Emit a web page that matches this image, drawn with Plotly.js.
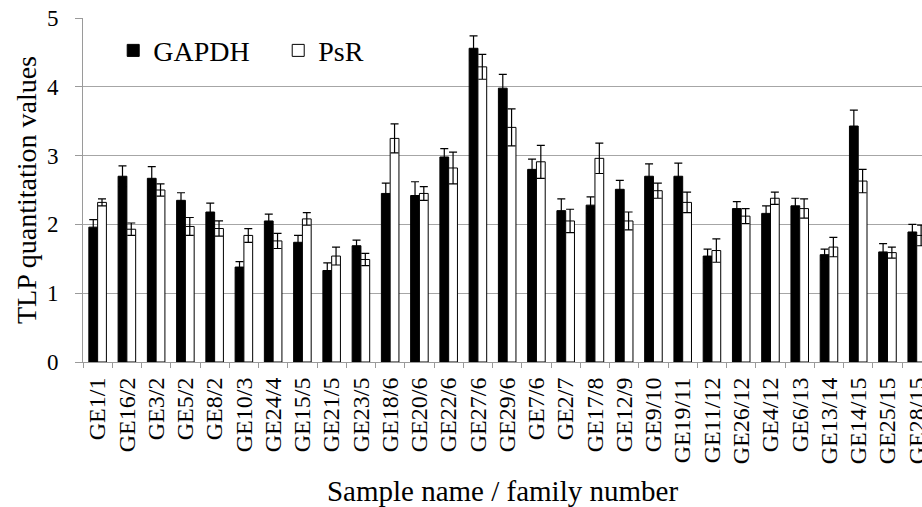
<!DOCTYPE html>
<html>
<head>
<meta charset="utf-8">
<script src="https://cdn.plot.ly/plotly-3.0.1.min.js"></script>
<style>html,body{margin:0;padding:0;background:#fff;}#chart{width:922px;height:507px;}</style>
</head>
<body>
<div id="chart"></div>
<script>
var categories = ["GE1/1","GE16/2","GE3/2","GE5/2","GE8/2","GE10/3","GE24/4","GE15/5","GE21/5","GE23/5","GE18/6","GE20/6","GE22/6","GE27/6","GE29/6","GE7/6","GE2/7","GE17/8","GE12/9","GE9/10","GE19/11","GE11/12","GE26/12","GE4/12","GE6/13","GE13/14","GE14/15","GE25/15","GE28/15"];
var gapdh = [1.96,2.70,2.67,2.35,2.18,1.38,2.05,1.74,1.33,1.69,2.45,2.42,2.98,4.56,3.98,2.80,2.20,2.28,2.51,2.70,2.70,1.54,2.23,2.16,2.27,1.56,3.43,1.60,1.89];
var gapdhErr = [0.11,0.15,0.17,0.11,0.13,0.08,0.10,0.10,0.11,0.08,0.15,0.20,0.12,0.18,0.20,0.15,0.17,0.12,0.13,0.18,0.19,0.10,0.10,0.11,0.11,0.08,0.23,0.12,0.11];
var psr = [2.32,1.93,2.50,1.97,1.94,1.84,1.76,2.08,1.54,1.49,3.25,2.45,2.82,4.29,3.41,2.91,2.05,2.96,2.05,2.49,2.32,1.62,2.12,2.38,2.23,1.67,2.63,1.59,1.84];
var psrErr = [0.05,0.09,0.09,0.13,0.11,0.10,0.11,0.09,0.13,0.09,0.21,0.10,0.23,0.18,0.27,0.24,0.17,0.22,0.13,0.11,0.15,0.17,0.11,0.09,0.14,0.14,0.17,0.08,0.15];
var yTicks = [0,1,2,3,4,5];

var serif = "Liberation Serif";
var traces = [
  {type:"bar", name:"GAPDH", x:categories, y:gapdh,
   marker:{color:"#000000", line:{color:"#000000", width:1}},
   error_y:{type:"data", array:gapdhErr, visible:true, color:"#000000", thickness:1.2, width:4}},
  {type:"bar", name:"PsR", x:categories, y:psr,
   marker:{color:"#ffffff", line:{color:"#000000", width:1}},
   error_y:{type:"data", array:psrErr, visible:true, color:"#000000", thickness:1.2, width:4}}
];
var layout = {
  width:922, height:507,
  margin:{l:83, r:0, t:18, b:145},
  paper_bgcolor:"#ffffff", plot_bgcolor:"#ffffff",
  font:{family:serif, color:"#000000"},
  barmode:"group", bargap:0.4, bargroupgap:0,
  showlegend:true,
  legend:{orientation:"h", x:0.036, y:0.905, xanchor:"left", yanchor:"middle",
          font:{family:serif, size:28, color:"#000"}, bgcolor:"rgba(0,0,0,0)",
          itemwidth:30, entrywidth:120},
  xaxis:{type:"category", range:[-0.5, 28.18], tickangle:-90, automargin:false,
         tickfont:{family:serif, size:24, color:"#000"}, ticklabelstandoff:5,
         showline:true, linecolor:"#9a9a9a", linewidth:1,
         ticks:"outside", tickson:"boundaries", ticklen:5, tickcolor:"#9a9a9a",
         showgrid:false, fixedrange:true,
         title:{text:"Sample name / family number", font:{family:serif, size:29, color:"#000"}, standoff:18}},
  yaxis:{range:[0,5], tickvals:yTicks, ticktext:yTicks.map(String), automargin:false,
         tickfont:{family:serif, size:23, color:"#000"}, ticklabelstandoff:12,
         showgrid:true, gridcolor:"#a6a6a6", gridwidth:1,
         showline:true, linecolor:"#9a9a9a", linewidth:1,
         ticks:"outside", ticklen:7, tickcolor:"#9a9a9a",
         zeroline:false,
         title:{text:"TLP quantitation values", font:{family:serif, size:28, color:"#000"}, standoff:2}}
};
Plotly.newPlot("chart", traces, layout, {staticPlot:true, displayModeBar:false});
</script>
</body>
</html>
